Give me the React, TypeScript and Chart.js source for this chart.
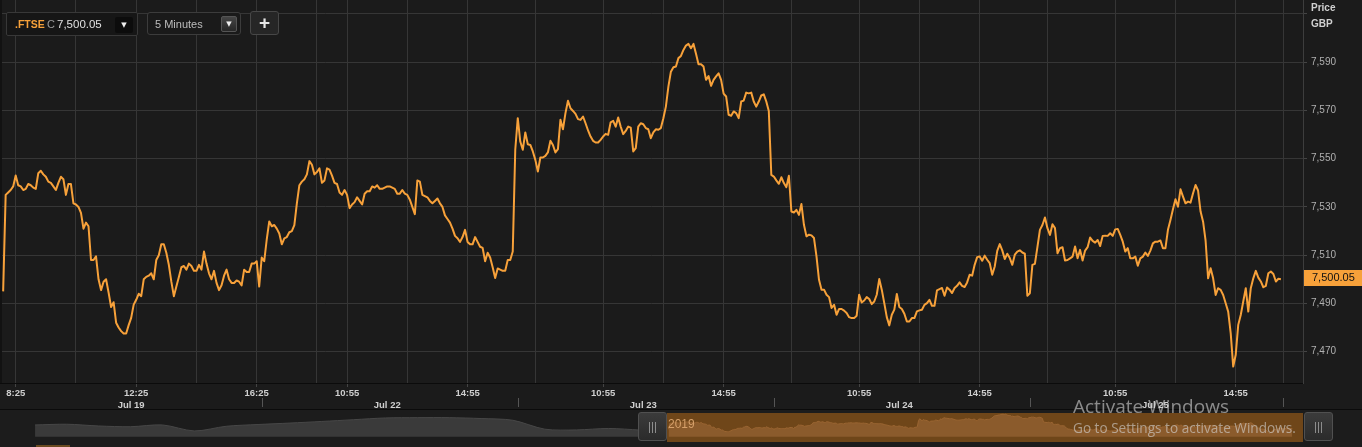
import { useEffect, useRef } from "react";
import { Chart, registerables } from "chart.js";

Chart.register(...registerables);

// ---------- data ----------
const DAYS = ["Jul 19", "Jul 22", "Jul 23", "Jul 24", "Jul 25"];
const BARS_PER_DAY = 102; // 08:00 .. 16:25, 5-minute bars
const OPEN_MINUTES = 8 * 60;
const BAR_MINUTES = 5;

const jul19 = [
  7495, 7535, 7536, 7537, 7538.5, 7543, 7539, 7538.5, 7537, 7537.5,
  7539.5, 7539, 7538, 7537.5, 7544, 7545, 7543.5, 7542.5, 7540.5, 7540,
  7538.5, 7537, 7540, 7542.5, 7541.5, 7535, 7539.5, 7539.5, 7531.5, 7531,
  7530, 7527.5, 7521, 7523.5, 7522, 7508, 7508, 7509.5, 7500, 7495.5,
  7499, 7500, 7494.5, 7488.5, 7490.5, 7482, 7480, 7478.5, 7477.5, 7477.5,
  7481, 7484, 7489.5, 7491.5, 7494, 7493, 7500, 7501, 7501.5, 7502.5,
  7500, 7508, 7510, 7514.5, 7514.5, 7511, 7506, 7499, 7493, 7497,
  7501, 7505, 7505.5, 7504, 7506.5, 7505.5, 7503.5, 7503.5, 7506, 7504,
  7511.5, 7506.5, 7502.5, 7500, 7503.5, 7498.5, 7495.5, 7497.5, 7501.5, 7504,
  7500, 7498.5, 7498.5, 7499.5, 7499, 7497.5, 7504, 7503, 7503, 7506.5,
  7506.5, 7507.5,
];

const jul22 = [
  7497, 7509, 7507.5, 7516.5, 7524, 7522, 7522.5, 7521, 7519, 7514.5,
  7517, 7517.5, 7519.5, 7520, 7522.5, 7531.5, 7539, 7540.5, 7541.5, 7543.5,
  7549, 7547.5, 7543.5, 7544.5, 7546, 7540, 7541, 7546, 7545.5, 7543,
  7540, 7539.5, 7536, 7535, 7537, 7535, 7529.5, 7531, 7532, 7534,
  7532.5, 7531, 7535.5, 7536.5, 7536.5, 7538.5, 7538, 7539, 7537.5, 7537.5,
  7538, 7538.5, 7538.5, 7538, 7537.5, 7535.5, 7535.5, 7537, 7535.5, 7535,
  7533, 7530, 7527, 7541, 7540.5, 7535, 7534.5, 7534, 7532.5, 7531.5,
  7532.5, 7533.5, 7531.5, 7530, 7526.5, 7525, 7523.5, 7521, 7518, 7517,
  7515.5, 7517.5, 7520.5, 7515.5, 7514.5, 7514.5, 7517.5, 7515.5, 7513.5, 7513,
  7507.5, 7511, 7509, 7505, 7500.5, 7504.5, 7504, 7503.5, 7503.5, 7508,
  7508, 7511.5,
];

const jul23 = [
  7553.7, 7566.8, 7557.1, 7553.7, 7560.9, 7556, 7555.7, 7553, 7549.5, 7544.7,
  7550.5, 7550.5, 7551.2, 7552.6, 7557.4, 7555.7, 7552.6, 7554, 7566.1, 7562.2,
  7568.9, 7574, 7570.9, 7569.8, 7568.6, 7566.4, 7566.1, 7567.5, 7564.7, 7561.7,
  7559.2, 7557.4, 7556.7, 7556.7, 7557.8, 7559.2, 7560.3, 7559.9, 7565.1, 7565.7,
  7563.3, 7567.1, 7563.3, 7560.2, 7561.5, 7563.3, 7562.9, 7553, 7554.4, 7563.3,
  7564.7, 7564.3, 7562.7, 7562.2, 7558.5, 7560.9, 7562.2, 7562, 7562.7, 7566.8,
  7571.6, 7579.9, 7586.1, 7587.9, 7588.2, 7591.7, 7592.6, 7595.1, 7596.9, 7597.6,
  7595.8, 7597.6, 7593.5, 7589.2, 7589.2, 7588.2, 7582.7, 7584.3, 7580.2, 7582.7,
  7584.1, 7585.4, 7582.7, 7577, 7575.8, 7568.2, 7567.8, 7569.6, 7568.9, 7566.8,
  7573.7, 7574.1, 7577.4, 7577.1, 7577.4, 7573.7, 7571.6, 7573.7, 7576.2, 7576.7,
  7573.7, 7569.8,
];

const jul24 = [
  7543.3, 7542.6, 7541, 7539.6, 7542.3, 7539.9, 7538.2, 7542.9, 7528.1, 7527.7,
  7528.8, 7526.7, 7531.2, 7522.6, 7517.8, 7518.5, 7518.2, 7517.1, 7509.5, 7499.8,
  7495.7, 7495.7, 7493.6, 7492.6, 7488.1, 7489.4, 7485.3, 7487.7, 7487.7, 7487,
  7486, 7484.3, 7483.9, 7483.9, 7484.9, 7493.6, 7490.4, 7491.2, 7492.6, 7491.8,
  7489.7, 7490.8, 7493.6, 7500.1, 7495.7, 7490.1, 7484.3, 7480.9, 7485.3, 7487.4,
  7493.9, 7488.5, 7487.7, 7485.7, 7482.5, 7482.5, 7483.9, 7483.9, 7486.7, 7487.1,
  7487.4, 7489.4, 7490.1, 7491.5, 7489, 7489, 7495.4, 7495.9, 7496.4, 7493.2,
  7496.6, 7495.7, 7494.3, 7496.4, 7497.3, 7498.7, 7497.3, 7496.8, 7498.7, 7501.9,
  7501.5, 7506, 7509.2, 7509.5, 7507.7, 7509.8, 7508.1, 7506.7, 7501.9, 7505.3,
  7511.8, 7514.6, 7512, 7508.4, 7510.6, 7508.8, 7506, 7510.2, 7511.5, 7512,
  7511.1, 7510.6,
];

const jul25 = [
  7493.2, 7494.2, 7506, 7506.4, 7513.3, 7520.5, 7522.5, 7525.6, 7521.2, 7518.4,
  7522.8, 7521.2, 7510.8, 7512.9, 7513.3, 7507.8, 7508, 7508.7, 7509.4, 7513.6,
  7508.7, 7512.2, 7507.8, 7511.9, 7513.3, 7517.3, 7515.9, 7515.2, 7516.3, 7513.8,
  7518, 7518.1, 7518, 7519.1, 7518, 7520.7, 7520.9, 7518.4, 7515.6, 7511.5,
  7512.9, 7508.7, 7508.7, 7509.4, 7505.6, 7508.7, 7509.4, 7511.1, 7509.7, 7511.9,
  7514.9, 7515.6, 7515.6, 7516.1, 7512.9, 7512.9, 7520.5, 7524.6, 7529, 7533.2,
  7530.1, 7537.3, 7534.3, 7531.5, 7532.2, 7531.8, 7535.7, 7539.1, 7536.8, 7528.1,
  7523.9, 7516, 7500.4, 7504.6, 7500.4, 7493.5, 7496.3, 7495.6, 7493.5, 7490.1,
  7486.6, 7477.7, 7463.8, 7468.7, 7481.1, 7485.2, 7490.8, 7496.3, 7486.6, 7496.3,
  7500.4, 7503.5, 7500.7, 7499.1, 7496.7, 7497.3, 7502.5, 7503.2, 7502.2, 7499.1,
  7500.2, 7500.05,
];

const LAST_PRICE = 7500.05;
const Y_TICKS = [7470, 7490, 7510, 7530, 7550, 7570, 7590, 7610];

// grid times [day, hh:mm] and which carry a label
const GRID_TIMES: [number, string][] = [
  [0, "8:25"], [0, "10:25"], [0, "12:25"], [0, "14:25"], [0, "16:25"],
  [1, "9:55"], [1, "10:55"], [1, "12:55"], [1, "14:55"],
  [2, "8:40"], [2, "10:55"], [2, "12:55"], [2, "14:55"],
  [3, "8:40"], [3, "10:55"], [3, "12:55"], [3, "14:55"],
  [4, "8:40"], [4, "10:55"], [4, "12:55"], [4, "14:55"], [4, "16:30"],
];
const LABELED_TIMES: [number, string][] = [
  [0, "8:25"], [0, "12:25"], [0, "16:25"],
  [1, "10:55"], [1, "14:55"],
  [2, "10:55"], [2, "14:55"],
  [3, "10:55"], [3, "14:55"],
  [4, "10:55"], [4, "14:55"],
];
const DAY_LABEL_TIME = "12:15";
const DAY_SEPARATORS: [number, string][] = [
  [1, "8:05"], [2, "8:05"], [3, "8:05"], [4, "8:05"], [4, "16:30"],
];

// navigator: earlier history (sampled every NAV_PRIOR_STEP bars)
const NAV_PRIOR_START = -517;
const NAV_PRIOR_STEP = 26;
const NAV_PRIOR = [
  7524, 7529, 7517, 7512, 7524, 7483, 7515, 7527, 7537, 7548,
  7560, 7572, 7574, 7574, 7568, 7556, 7495, 7490, 7500, 7489,
];

// ---------- view settings ----------
const X_MIN = -1.255;
const X_MAX = 517.8;
const Y_MIN = 7457;
const Y_MAX = 7615.8;
const NAV_X_MIN = -545.6;
const NAV_X_MAX = 565.9;
const NAV_Y_MIN = 7373;
const NAV_Y_MAX = 7626.4;
const NAV_BASE = 7444;

const ORANGE = "#f7a13a";
const GRID = "#363636";
const FONT = '"Liberation Sans", Arial, sans-serif';

function barIndex(day: number, t: string) {
  const [h, m] = t.split(":").map(Number);
  return day * BARS_PER_DAY + (h * 60 + m - OPEN_MINUTES) / BAR_MINUTES;
}

const series = [jul19, jul22, jul23, jul24, jul25].flatMap((vals, d) =>
  vals.map((v, i) => ({ x: d * BARS_PER_DAY + i, y: v }))
);
const navPrior = NAV_PRIOR.map((v, i) => ({ x: NAV_PRIOR_START + i * NAV_PRIOR_STEP, y: v }));

const labelMap = new Map<number, string>(LABELED_TIMES.map(([d, t]) => [barIndex(d, t), t]));

const navPx = (v: number) => ((v - NAV_X_MIN) / (NAV_X_MAX - NAV_X_MIN)) * 1362;

export default function App() {
  const mainRef = useRef<HTMLCanvasElement>(null);
  const navRef = useRef<HTMLCanvasElement>(null);

  useEffect(() => {
    Chart.defaults.font.family = FONT;

    const overlay = {
      id: "overlay",
      beforeDraw(chart: any) {
        const { ctx, width, height } = chart;
        ctx.save();
        ctx.fillStyle = "#1b1b1b";
        ctx.fillRect(0, 0, width, height);
        ctx.restore();
      },
      afterDraw(chart: any) {
        const { ctx } = chart;
        const xs = chart.scales.x;
        const ys = chart.scales.y;
        const x2 = chart.scales.x2;
        ctx.save();
        // left edge strip
        ctx.fillStyle = "#121212";
        ctx.fillRect(0, 0, 2, chart.chartArea.bottom);
        // day separators in the date row
        ctx.strokeStyle = "#555";
        ctx.lineWidth = 1;
        DAY_SEPARATORS.forEach(([d, t]) => {
          const px = Math.round(xs.getPixelForValue(barIndex(d, t))) + 0.5;
          ctx.beginPath();
          ctx.moveTo(px, x2.top + 1);
          ctx.lineTo(px, x2.top + 10);
          ctx.stroke();
        });
        // bottom border line
        ctx.fillStyle = "#0b0b0b";
        ctx.fillRect(0, x2.bottom - 1, chart.width, 1);
        // header of price axis
        ctx.fillStyle = "#d0d0d0";
        ctx.font = `bold 10px ${FONT}`;
        ctx.textBaseline = "middle";
        ctx.textAlign = "left";
        ctx.fillText("Price", ys.left + 8, 8.5);
        ctx.fillText("GBP", ys.left + 8, 24);
        // last price tag
        const py = ys.getPixelForValue(LAST_PRICE);
        ctx.fillStyle = ORANGE;
        ctx.fillRect(ys.left + 1, Math.round(py - 9), chart.width - ys.left - 1, 16);
        ctx.fillStyle = "#111";
        ctx.font = `11px ${FONT}`;
        ctx.fillText(
          LAST_PRICE.toLocaleString("en-US", { minimumFractionDigits: 2 }),
          ys.left + 9,
          py - 1
        );
        ctx.restore();
      },
    };

    const noPadX = (h: number) => (s: any) => {
      s.height = h;
      s.paddingLeft = 0;
      s.paddingRight = 0;
      s.paddingTop = 0;
      s.paddingBottom = 0;
    };

    const main = new Chart(mainRef.current!, {
      type: "line",
      data: {
        datasets: [
          {
            data: series,
            borderColor: ORANGE,
            borderWidth: 2,
            pointRadius: 0,
            tension: 0,
            fill: false,
            borderJoinStyle: "round",
          } as any,
        ],
      },
      options: {
        animation: false,
        responsive: false,
        maintainAspectRatio: false,
        events: [],
        layout: { padding: 0 },
        plugins: { legend: { display: false }, tooltip: { enabled: false } },
        scales: {
          x: {
            type: "linear",
            position: "bottom",
            weight: 0,
            min: X_MIN,
            max: X_MAX,
            afterBuildTicks: (s: any) => {
              s.ticks = GRID_TIMES.map(([d, t]) => ({ value: barIndex(d, t) }));
            },
            afterFit: noPadX(14),
            ticks: {
              autoSkip: false,
              maxRotation: 0,
              padding: 1,
              color: "#cfcfcf",
              font: { size: 9.5, weight: "bold" },
              callback: (v: any) => labelMap.get(Number(v)) ?? "",
            },
            grid: {
              color: GRID,
              drawTicks: true,
              tickLength: 4,
              tickColor: (c: any) => (labelMap.has(c.tick?.value) ? "#444" : "rgba(0,0,0,0)"),
            },
            border: { display: true, color: "#0b0b0b", width: 1 },
          } as any,
          x2: {
            type: "linear",
            position: "bottom",
            weight: 1,
            min: X_MIN,
            max: X_MAX,
            afterBuildTicks: (s: any) => {
              s.ticks = DAYS.map((_, d) => ({ value: barIndex(d, DAY_LABEL_TIME) }));
            },
            afterFit: noPadX(13),
            ticks: {
              autoSkip: false,
              maxRotation: 0,
              padding: 2.5,
              color: "#cfcfcf",
              font: { size: 9.5, weight: "bold" },
              callback: (_v: any, i: number) => DAYS[i],
            },
            grid: { display: false, drawTicks: false },
            border: { display: false },
          } as any,
          y: {
            type: "linear",
            position: "right",
            min: Y_MIN,
            max: Y_MAX,
            afterBuildTicks: (s: any) => {
              s.ticks = Y_TICKS.map((v) => ({ value: v }));
            },
            afterFit: (s: any) => {
              s.width = 59;
              s.paddingTop = 0;
              s.paddingBottom = 0;
              s.paddingLeft = 0;
              s.paddingRight = 0;
            },
            ticks: {
              padding: 4,
              color: "#b0b0b0",
              font: { size: 10 },
              callback: (v: any) => (Number(v) === 7610 ? "" : Number(v).toLocaleString("en-US")),
            },
            grid: { color: GRID, tickLength: 4, tickColor: "#444" },
            border: { display: true, color: "#3d3d3d" },
          } as any,
        },
      },
      plugins: [overlay],
    });

    const nav = new Chart(navRef.current!, {
      type: "line",
      data: {
        datasets: [
          {
            data: navPrior,
            borderColor: "#474747",
            borderWidth: 1,
            backgroundColor: "#3a3a3a",
            pointRadius: 0,
            tension: 0.3,
            fill: { value: NAV_BASE },
          } as any,
          {
            data: series,
            borderColor: "#9a6532",
            borderWidth: 1,
            backgroundColor: "#8b5b2c",
            pointRadius: 0,
            tension: 0,
            fill: { value: NAV_BASE },
          } as any,
        ],
      },
      options: {
        animation: false,
        responsive: false,
        maintainAspectRatio: false,
        events: [],
        layout: { padding: 0 },
        plugins: { legend: { display: false }, tooltip: { enabled: false } },
        scales: {
          x: { type: "linear", display: false, min: NAV_X_MIN, max: NAV_X_MAX },
          y: { type: "linear", display: false, min: NAV_Y_MIN, max: NAV_Y_MAX },
        },
      },
    });

    return () => {
      main.destroy();
      nav.destroy();
    };
  }, []);

  const selLeft = navPx(X_MIN);
  const selRight = navPx(X_MAX);

  const handle = (left: number) => (
    <div
      style={{
        position: "absolute",
        left,
        top: 412,
        width: 29,
        height: 29,
        boxSizing: "border-box",
        background: "linear-gradient(#3b3b3b, #2b2b2b)",
        border: "1px solid #505050",
        borderRadius: 3,
      }}
    >
      {[10, 13, 16].map((l) => (
        <div key={l} style={{ position: "absolute", left: l, top: 9, width: 1, height: 11, background: "#8c8c8c" }} />
      ))}
    </div>
  );

  const txt = (
    s: string,
    left: number,
    top: number,
    size: number,
    color: string,
    extra: any = {}
  ) => (
    <div
      style={{
        position: "absolute",
        left,
        top,
        fontSize: size,
        lineHeight: "14px",
        color,
        whiteSpace: "nowrap",
        fontFamily: FONT,
        ...extra,
      }}
    >
      {s}
    </div>
  );

  return (
    <div
      style={{
        position: "fixed",
        left: 0,
        top: 0,
        width: 1362,
        height: 447,
        background: "#1b1b1b",
        overflow: "hidden",
        fontFamily: FONT,
      }}
    >
      <canvas
        ref={mainRef}
        width={1362}
        height={410}
        style={{ position: "absolute", left: 0, top: 0, width: 1362, height: 410 }}
      />

      {/* navigator */}
      <div style={{ position: "absolute", left: 0, top: 410, width: 1362, height: 37, background: "#1c1c1c" }} />
      <div
        style={{
          position: "absolute",
          left: selLeft,
          top: 413,
          width: selRight - selLeft,
          height: 29,
          background: "#6f4619",
        }}
      />
      <canvas
        ref={navRef}
        width={1362}
        height={37}
        style={{ position: "absolute", left: 0, top: 410, width: 1362, height: 37 }}
      />
      {txt("2019", selLeft + 1, 417, 12, "#d6a06a")}
      {handle(selLeft - 29)}
      {handle(selRight + 1)}
      <div style={{ position: "absolute", left: 36, top: 445, width: 34, height: 2, background: "#6a4a20" }} />

      {/* windows watermark */}
      {txt("Activate Windows", 1073, 396, 19, "rgba(215,215,215,0.6)", { fontFamily: '"Open Sans", "Noto Sans", sans-serif', lineHeight: "21px" })}
      {txt("Go to Settings to activate Windows.", 1073, 420, 13.6, "rgba(215,215,215,0.6)", { fontFamily: '"Open Sans", "Noto Sans", sans-serif', lineHeight: "16px" })}

      {/* top-left controls */}
      <div
        style={{
          position: "absolute",
          left: 6,
          top: 12,
          width: 132,
          height: 24,
          boxSizing: "border-box",
          background: "#161616",
          border: "1px solid #383838",
          borderRadius: 2,
        }}
      />
      {txt(".FTSE", 15, 17, 10.5, ORANGE, { fontWeight: "bold" })}
      {txt("C", 47, 17, 11, "#9a9a9a")}
      {txt("7,500.05", 57, 17, 11.5, "#e0e0e0")}
      <div
        style={{
          position: "absolute",
          left: 115,
          top: 17,
          width: 18,
          height: 16,
          background: "#0c0c0c",
          borderRadius: 2,
          color: "#eee",
          fontSize: 7,
          lineHeight: "16px",
          textAlign: "center",
          fontFamily: '"DejaVu Sans", sans-serif',
        }}
      >
        ▼
      </div>

      <div
        style={{
          position: "absolute",
          left: 147,
          top: 12,
          width: 94,
          height: 23,
          boxSizing: "border-box",
          background: "#1a1a1a",
          border: "1px solid #3c3c3c",
          borderRadius: 3,
        }}
      />
      {txt("5 Minutes", 155, 16.5, 11, "#bdbdbd")}
      <div
        style={{
          position: "absolute",
          left: 221,
          top: 16,
          width: 16,
          height: 16,
          boxSizing: "border-box",
          background: "linear-gradient(#454545, #272727)",
          border: "1px solid #555",
          borderRadius: 2,
          color: "#eee",
          fontSize: 7,
          lineHeight: "14px",
          textAlign: "center",
          fontFamily: '"DejaVu Sans", sans-serif',
        }}
      >
        ▼
      </div>

      <div
        style={{
          position: "absolute",
          left: 250,
          top: 11,
          width: 29,
          height: 24,
          boxSizing: "border-box",
          background: "#262626",
          border: "1px solid #474747",
          borderRadius: 3,
          color: "#e8e8e8",
          fontSize: 19,
          fontWeight: "bold",
          lineHeight: "21px",
          textAlign: "center",
          fontFamily: FONT,
        }}
      >
        +
      </div>
    </div>
  );
}
